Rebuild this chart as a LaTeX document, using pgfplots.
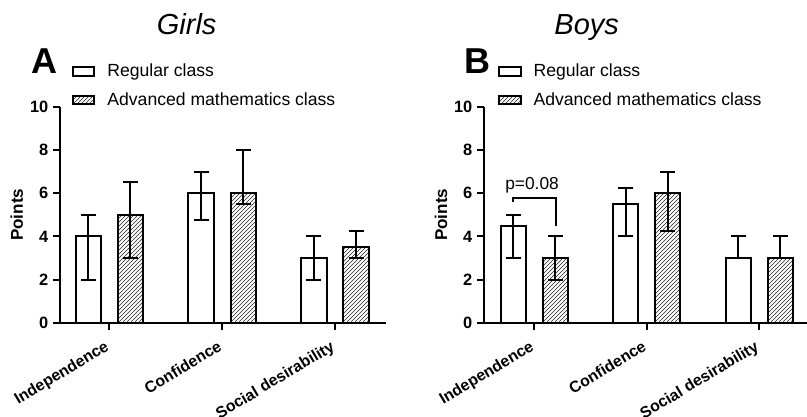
\documentclass[border=0pt]{standalone}
\usepackage{pgfplots}
\pgfplotsset{compat=1.18}
\usepackage{fontspec}
\setmainfont{Liberation Sans}
\usetikzlibrary{patterns}
\begin{document}
\begin{tikzpicture}
\def\px{0.75pt}
\useasboundingbox (0,0) rectangle (807*\px,-417*\px);
\pgfplotsset{
  panel/.style={
    scale only axis, height=161.8pt, ybar, bar width=0.225,
    ymin=0, ymax=10, ytick={0,2,4,6,8,10},
    axis x line*=bottom, axis y line*=left,
    axis line style={line width=1.5pt, black},
    tick style={line width=1.5pt, black},
    tick align=outside, major tick length=5.25pt,
    xtick={0,1,2},
    xticklabels={Independence,Confidence,Social desirability},
    x tick label style={xshift=0.5pt, yshift=-15pt, rotate=31, anchor=base east, font=\fontsize{11.9}{14}\selectfont\bfseries, inner sep=0pt},
    y tick label style={font=\fontsize{12.3}{14}\selectfont\bfseries},
    /pgf/number format/assume math mode=true,
    ylabel={Points},
    ylabel style={font=\fontsize{12.8}{14}\selectfont\bfseries, at={(axis description cs:-0.133,0.5)}, anchor=center},
    clip=false,
    error bars/y dir=both, error bars/y explicit,
    error bars/error bar style={line width=1.5pt, black},
    error bars/error mark options={rotate=90, line width=1.5pt, mark size=5.6pt, black},
    legend image code/.code={\draw[#1, line width=1.5pt] (0pt,-3.1pt) rectangle (16.3pt,3.1pt);},
    legend style={draw=none, fill=none, inner sep=0pt, font=\fontsize{13.2}{15}\selectfont, row sep=10.5pt, column sep=9pt, nodes={inner sep=0pt}},
    legend cell align=left,
  },
  reg/.style={draw=black, fill=white, line width=1.5pt, bar shift=-0.187},
  adv/.style={draw=black, pattern=north east lines, pattern color=black!85, line width=1.5pt, bar shift=0.187},
}
% Girls
\begin{axis}[panel, at={(60*\px,-322.7*\px)}, anchor=south west,
  width=244.3pt, xmin=-0.437, xmax=2.449,
  legend style={at={(axis description cs:0.035,1.2)}, anchor=north west}]
\addplot[reg] coordinates {(0,4) += (0,1) -= (0,2) (1,6) += (0,1) -= (0,1.25) (2,3) += (0,1) -= (0,1)};
\addplot[adv] coordinates {(0,5) += (0,1.5) -= (0,2) (1,6) += (0,2) -= (0,0.5) (2,3.5) += (0,0.75) -= (0,0.5)};
\legend{Regular class, Advanced mathematics class}
\end{axis}
% Boys
\begin{axis}[panel, at={(484*\px,-322.7*\px)}, anchor=south west,
  width=242pt, xmin=-0.447, xmax=2.421,
  legend style={at={(axis description cs:0.042,1.2)}, anchor=north west}]
\addplot[reg] coordinates {(0,4.5) += (0,0.5) -= (0,1.5) (1,5.5) += (0,0.75) -= (0,1.5) (2,3) += (0,1) -= (0,0)};
\addplot[adv] coordinates {(0,3) += (0,1) -= (0,1) (1,6) += (0,1) -= (0,1.75) (2,3) += (0,1) -= (0,0)};
\legend{Regular class, Advanced mathematics class}
\draw[line width=1.5pt] (axis cs:-0.19,5.6) -- (axis cs:-0.19,5.77) -- (axis cs:0.19,5.77) -- (axis cs:0.19,4.48);
\node[font=\fontsize{13}{15}\selectfont, anchor=base] at (axis cs:-0.02,6.18) {p=0.08};
\end{axis}
\node[font=\fontsize{21.75}{24}\selectfont\itshape, anchor=base] at (186.7*\px,-35*\px) {Girls};
\node[font=\fontsize{21.75}{24}\selectfont\itshape, anchor=base] at (586.7*\px,-35*\px) {Boys};
\node[font=\fontsize{27}{30}\selectfont\bfseries, anchor=base west, inner sep=0pt] at (31.7*\px,-73.3*\px) {A};
\node[font=\fontsize{27}{30}\selectfont\bfseries, anchor=base west, inner sep=0pt] at (464.5*\px,-73.3*\px) {B};
\end{tikzpicture}
\end{document}
